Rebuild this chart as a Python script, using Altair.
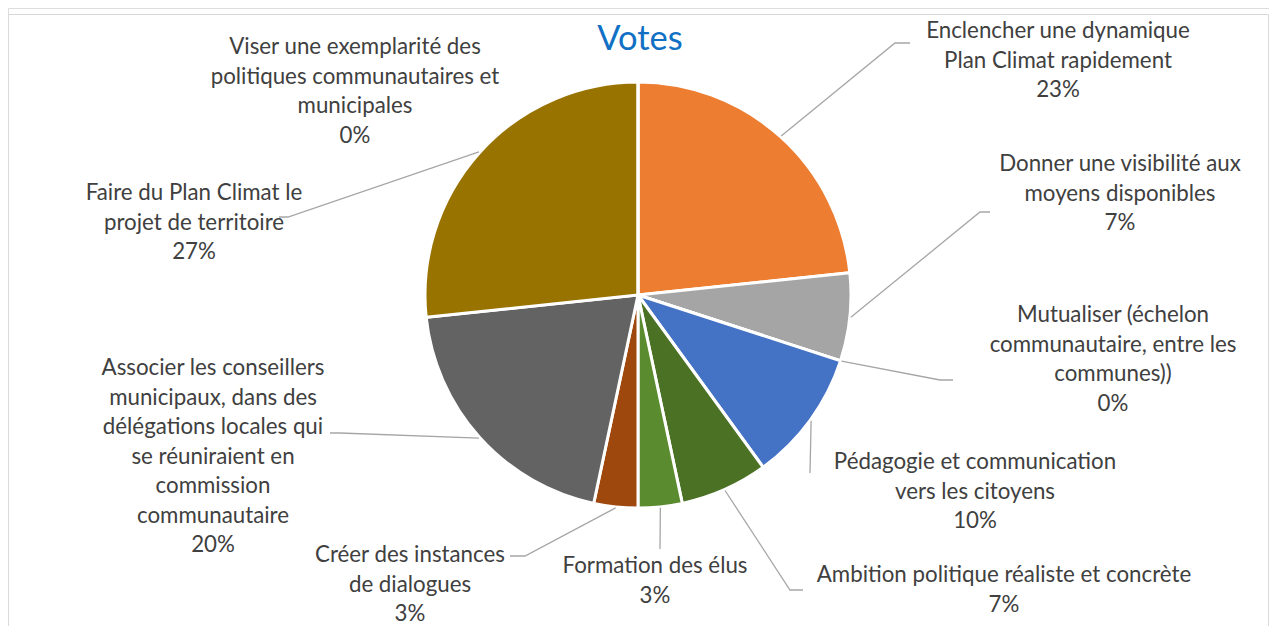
import math
import altair as alt
import pandas as pd

# ---------------- data ----------------
categories = [
    "Enclencher une dynamique Plan Climat rapidement",
    "Donner une visibilité aux moyens disponibles",
    "Mutualiser (échelon communautaire, entre les communes))",
    "Pédagogie et communication vers les citoyens",
    "Ambition politique réaliste et concrète",
    "Formation des élus",
    "Créer des instances de dialogues",
    "Associer les conseillers municipaux, dans des délégations locales qui se réuniraient en commission communautaire",
    "Faire du Plan Climat le projet de territoire",
    "Viser une exemplarité des politiques communautaires et municipales",
]
votes = [7, 2, 0, 3, 2, 1, 1, 6, 8, 0]

label_lines = [
    ["Enclencher une dynamique", "Plan Climat rapidement"],
    ["Donner une visibilité aux", "moyens disponibles"],
    ["Mutualiser (échelon", "communautaire, entre les", "communes))"],
    ["Pédagogie et communication", "vers les citoyens"],
    ["Ambition politique réaliste et concrète"],
    ["Formation des élus"],
    ["Créer des instances", "de dialogues"],
    ["Associer les conseillers", "municipaux, dans des", "délégations locales qui",
     "se réuniraient en", "commission", "communautaire"],
    ["Faire du Plan Climat le", "projet de territoire"],
    ["Viser une exemplarité des", "politiques communautaires et", "municipales"],
]

colors = ["#ED7D31", "#A5A5A5", "#FFC000", "#4472C4", "#4A7124",
          "#5A8B2E", "#9E480E", "#636363", "#997300", "#5B9BD5"]

# ---------------- layout (pixels, chart coordinates) ----------------
W, H = 1261, 618
OFF = 8  # page margin
CX, CY, R = 638 - OFF, 295 - OFF, 213
LINE_H = 29.5
FONT = "Lato"
# label block: centre x, y of first line (page coords)
label_pos = [
    (1058, 31), (1120, 164), (1113, 315), (975, 462), (1004, 575),
    (655, 566), (410, 555), (213, 368), (194, 193), (355, 47),
]
# leader-line bend / end points after the pie-edge start (page coords), None = no leader
leader_tail = [
    [(895, 43), (910, 43)],
    [(980, 212), (990, 212)],
    [(940, 380), (953, 380)],
    [(810, 473)],
    [(790, 590), (803, 590)],
    [(660, 549)],
    [(525, 556), (510, 556)],
    [(340, 433), (330, 433)],
    [(288, 217), (279, 217)],
    None,
]

total = sum(votes)
pct = [f"{round(v / total * 100)}%" for v in votes]

pie_df = pd.DataFrame({"cat": categories, "votes": votes, "idx": list(range(len(votes)))})

# text rows
text_rows = []
for i, lines in enumerate(label_lines):
    x0, y0 = label_pos[i]
    for j, t in enumerate(lines + [pct[i]]):
        text_rows.append({"x": x0 - OFF, "y": y0 - OFF + j * LINE_H, "t": t})
text_df = pd.DataFrame(text_rows)

# leader rows: start at the pie edge at the slice's mid angle (or boundary for 0 slices)
lead_rows = []
cum = 0
for i, v in enumerate(votes):
    mid = (cum + v / 2) / total * 2 * math.pi
    cum += v
    if leader_tail[i] is None:
        continue
    sx = CX + (R + 1) * math.sin(mid)
    sy = CY - (R + 1) * math.cos(mid)
    pts = [(sx, sy)] + [(px - OFF, py - OFF) for px, py in leader_tail[i]]
    for k, (px, py) in enumerate(pts):
        lead_rows.append({"id": i, "o": k, "x": px, "y": py})
lead_df = pd.DataFrame(lead_rows)

# ---------------- chart ----------------
pie = alt.Chart(pie_df).mark_arc(outerRadius=R, stroke="white", strokeWidth=3).encode(
    theta=alt.Theta("votes:Q", stack=True),
    order=alt.Order("idx:Q", sort="ascending"),
    color=alt.Color("cat:N", scale=alt.Scale(domain=categories, range=colors), legend=None),
    x=alt.value(CX),
    y=alt.value(CY),
)

leaders = alt.Chart(lead_df).mark_line(color="#A6A6A6", strokeWidth=1.3).encode(
    x=alt.X("x:Q", scale=None, axis=None),
    y=alt.Y("y:Q", scale=None, axis=None),
    detail="id:N",
    order="o:Q",
)

labels = alt.Chart(text_df).mark_text(
    font=FONT, fontSize=22.3, color="#404040", align="center", baseline="middle"
).encode(
    x=alt.X("x:Q", scale=None, axis=None),
    y=alt.Y("y:Q", scale=None, axis=None),
    text="t:N",
)

title_df = pd.DataFrame({"t": ["Votes"]})
title = alt.Chart(title_df).mark_text(
    font=FONT, fontSize=34.5, color="#1070C4", align="center", baseline="middle"
).encode(x=alt.value(640 - OFF), y=alt.value(40 - OFF), text="t:N")

border_df = pd.DataFrame({"x": [0.5, 0.5, W - 0.5, W - 0.5], "y": [H, 14 - OFF + 0.5, 14 - OFF + 0.5, H], "o": [0, 1, 2, 3]})
border = alt.Chart(border_df).mark_line(color="#D9D9D9", strokeWidth=1).encode(
    x=alt.X("x:Q", scale=None, axis=None),
    y=alt.Y("y:Q", scale=None, axis=None),
    order="o:Q",
)

chart = alt.layer(border, pie, leaders, labels, title).properties(
    width=W, height=H, padding=0, autosize=alt.AutoSizeParams(type="none")
).configure_view(stroke=None).configure(background="white")

chart.save("out.html", embed_options={"renderer": "svg", "actions": False})
